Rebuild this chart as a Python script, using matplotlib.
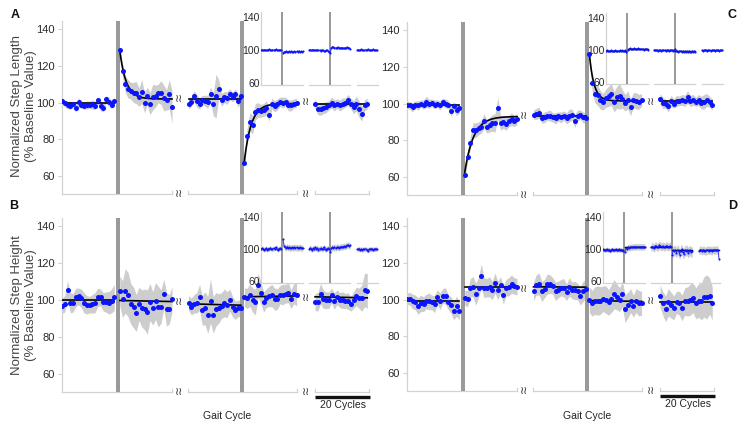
import numpy as np
import matplotlib
matplotlib.use("Agg")
import matplotlib.pyplot as plt
from matplotlib.transforms import blended_transform_factory as btf

plt.rcParams['font.family'] = ['Liberation Sans', 'DejaVu Sans']

# ---------------- data ----------------
Y_TICKS = [60, 80, 100, 120, 140]
INSET_TICKS = [60, 100, 140]

# Panel A: Step Length (condition 1)
A_P1 = [101, 99.6, 98.7, 98.4, 99, 97.3, 100.2, 98.7, 98.4, 98.7, 98.7, 99, 98.4, 101.2, 98.4, 97.3, 101.8, 100.5, 98.7, 100.9]
A_P2 = [128.5, 117.5, 110, 107.5, 106.5, 105.5, 105.5, 103, 106, 100, 103.5, 99.5, 103, 103.5, 105, 105.5, 102.5, 101.5, 104.5, 97.5]
A_P3 = [99.5, 100.5, 103.5, 101, 99.5, 101.5, 101, 100.5, 104.5, 99, 103.5, 107.5, 101.5, 103, 102.5, 104.5, 103, 104.5, 101, 103.5]
A_P4 = [67, 82, 89.5, 88, 95, 96, 95.5, 96, 97, 93.5, 99.5, 98, 99, 100.5, 100, 100.5, 98.5, 98.5, 99.5, 100]
A_P5 = [99.5, 96.5, 96.5, 97, 97.5, 98.5, 100, 98.5, 99.5, 98.5, 99.5, 100, 101.5, 99.5, 97.5, 99.5, 96.5, 94, 98.5, 99.5]
A_SD1 = [2.0, 1.8, 2.2, 2.0, 1.8, 2.2, 2.5, 2.0, 1.8, 2.2, 2.0, 2.5, 2.2, 2.0, 2.8, 2.2, 2.0, 2.5, 2.2, 2.0]
A_SD2 = [2.0, 3.5, 4.5, 5.0, 4.5, 5.5, 6.0, 5.0, 6.5, 5.5, 5.0, 6.0, 7.0, 6.0, 5.0, 6.5, 7.0, 5.5, 8.0, 9.0]
A_SD3 = [3.0, 2.5, 3.0, 3.5, 3.0, 2.5, 3.0, 3.5, 4.0, 6.0, 12.0, 5.0, 3.5, 3.0, 3.5, 3.0, 2.5, 3.0, 3.5, 3.0]
A_SD4 = [2.5, 4.0, 5.0, 5.0, 4.5, 4.0, 3.5, 3.5, 4.0, 3.5, 3.0, 3.0, 3.0, 2.5, 3.0, 2.5, 3.0, 3.0, 2.5, 2.5]
A_SD5 = [2.5, 3.0, 3.5, 3.0, 3.0, 2.5, 3.0, 3.0, 2.5, 3.0, 3.0, 2.5, 3.0, 3.0, 3.5, 4.0, 4.5, 4.0, 3.0, 3.0]
# fit per phase: (plateau, amplitude, tau, slope)
A_FIT = [(100, 0, 1, 0), (102, 26.5, 2.3, 0), (102, 0, 1, 0), (99.5, -31.5, 2.5, 0), (99.5, 0, 1, 0)]
A_BREAK_Y = [102, 100.5]

# Panel B: Step Height (condition 1)
B_P1 = [97, 98, 105.5, 98.5, 98.5, 101.5, 102, 101, 98.5, 97.5, 97.5, 98, 98.5, 101.5, 101.5, 99, 99, 98.5, 99.5, 101.5]
B_P2 = [105, 100.5, 105, 103, 98, 96, 93, 98, 95.5, 95, 93.5, 99, 95.5, 99.5, 96.5, 96.5, 103.5, 95, 95, 100.5]
B_P3 = [98.5, 96.5, 98, 98.5, 101.5, 94.5, 95.5, 92, 99.5, 92, 95, 95.5, 97, 98.5, 97.5, 100, 96.5, 94.5, 95.5, 95.5]
B_P4 = [101.5, 101, 102.5, 100, 99, 108, 104, 99, 101, 102, 102.5, 100.5, 100.5, 103, 103, 103.5, 104, 100.5, 103.5, 103]
B_P5 = [99, 99, 103.5, 100.5, 100, 100, 102.5, 99.5, 101.5, 100, 100, 99.5, 99.5, 98, 100, 102, 101, 101, 105.5, 105]
B_SD1 = [4.0, 4.5, 5.0, 5.5, 5.0, 5.0, 4.5, 5.0, 5.5, 5.0, 4.5, 5.0, 5.5, 5.0, 4.5, 5.0, 5.5, 6.0, 6.5, 7.0]
B_SD2 = [8.0, 10.0, 12.0, 12.0, 11.0, 11.0, 10.0, 9.0, 10.0, 11.0, 12.0, 10.0, 9.0, 10.0, 11.0, 9.0, 8.0, 9.0, 8.0, 7.0]
B_SD3 = [4.0, 4.5, 5.0, 5.5, 7.0, 8.0, 9.0, 10.0, 12.0, 10.0, 9.0, 8.0, 7.0, 7.5, 7.0, 6.0, 5.5, 5.0, 4.5, 4.5]
B_SD4 = [5.0, 5.5, 6.0, 6.5, 7.0, 6.5, 6.0, 5.5, 5.0, 5.5, 6.0, 6.0, 5.5, 5.0, 5.5, 5.0, 5.5, 5.0, 5.5, 6.0]
B_SD5 = [4.5, 5.0, 5.5, 5.0, 4.5, 4.5, 4.0, 4.5, 4.0, 4.0, 4.5, 4.0, 4.5, 4.0, 4.5, 5.0, 5.5, 7.0, 9.0, 9.5]
B_FIT = [(100, 0, 1, 0), (99.8, 0, 1, -0.03), (98, 0, 1, -0.04), (101.8, 0, 1, 0.025), (101.8, 0, 1, -0.03)]
B_BREAK_Y = [99, 101]

# Panel C: Step Length (condition 2)
C_P1 = [99.5, 99, 98, 99.5, 99, 100, 99.5, 101, 100, 100.5, 99.5, 100, 99, 101, 100, 99.5, 96, 98.5, 96.5, 97.5]
C_P2 = [61, 71, 78.5, 85.5, 85.5, 86.5, 87.5, 90.5, 87.5, 88.5, 89.5, 89.5, 97.5, 89.5, 90, 89, 90.5, 91.5, 90.5, 91.5]
C_P3 = [94, 94.5, 95, 92, 92.5, 93.5, 93.5, 92.5, 92, 93, 92.5, 93.5, 92, 93.5, 94, 90.5, 93.5, 94, 92.5, 92]
C_P4 = [127, 111, 105.5, 104.5, 102, 101, 103, 104, 105, 101, 103.5, 104, 102.5, 100.5, 102, 98, 102, 101.5, 101, 102]
C_P5 = [102.5, 100.5, 100, 98.5, 101.5, 100, 101.5, 101.5, 102, 101.5, 103.5, 101.5, 102, 101, 102, 100.5, 101, 102, 101, 99.5]
C_SD1 = [2.0, 2.0, 2.5, 2.0, 2.5, 2.0, 2.5, 3.0, 2.5, 2.0, 2.5, 2.0, 2.5, 2.0, 2.5, 2.0, 3.0, 2.5, 3.0, 2.5]
C_SD2 = [2.0, 3.0, 3.5, 4.0, 4.0, 3.5, 3.5, 4.0, 3.5, 4.0, 4.5, 5.0, 6.0, 4.0, 3.5, 3.5, 3.0, 3.5, 3.0, 3.0]
C_SD3 = [2.5, 3.0, 3.0, 2.5, 3.0, 2.5, 3.0, 2.5, 3.0, 2.5, 3.0, 2.5, 3.0, 3.5, 3.0, 3.5, 3.0, 2.5, 3.0, 2.5]
C_SD4 = [3.0, 4.0, 5.0, 5.5, 5.0, 4.5, 5.0, 5.5, 6.0, 5.5, 6.0, 7.0, 5.0, 4.5, 5.0, 4.5, 4.0, 4.5, 4.0, 3.5]
C_SD5 = [3.0, 3.0, 2.5, 3.0, 3.0, 2.5, 3.0, 2.5, 3.0, 3.0, 3.5, 3.0, 3.0, 2.5, 3.0, 3.5, 4.0, 3.5, 3.0, 3.0]
C_FIT = [(99.5, 0, 1, 0), (93, -30.5, 3.2, 0), (93, 0, 1, 0), (101.5, 25.5, 1.7, 0), (101.5, 0, 1, 0)]
C_BREAK_Y = [93, 101]

# Panel D: Step Height (condition 2)
D_P1 = [100.5, 100.5, 99, 98.5, 96.5, 98, 97.5, 99, 99, 98.5, 97.5, 101.5, 99, 102, 102, 98.5, 97, 94, 96.5, 94]
D_P2 = [101, 100.5, 106.5, 107, 103, 106.5, 113, 106.5, 106.5, 107, 105, 109, 105, 108, 102.5, 106.5, 107, 108.5, 107.5, 107]
D_P3 = [104.5, 108, 108.5, 104.5, 106, 108.5, 108.5, 107.5, 104.5, 105.5, 106.5, 106.5, 104, 107, 105, 105, 104.5, 102, 104.5, 106]
D_P4 = [100, 98, 99.5, 99.5, 99.5, 100.5, 100, 98.5, 100.5, 103, 101.5, 100, 103, 95, 97, 99.5, 96.5, 99.5, 98, 98]
D_P5 = [102, 98, 95, 98.5, 97, 95.5, 98.5, 98, 95.5, 99, 99, 100, 101, 98, 99.5, 99, 101.5, 101.5, 102, 98]
D_SD1 = [3.0, 3.5, 4.0, 4.0, 4.5, 4.5, 4.0, 4.0, 4.5, 4.0, 4.5, 4.0, 4.5, 4.0, 4.5, 4.0, 4.5, 5.0, 5.5, 5.0]
D_SD2 = [4.0, 4.5, 5.0, 5.5, 6.0, 5.5, 6.5, 5.5, 5.0, 5.5, 5.0, 5.5, 5.0, 4.5, 5.0, 4.5, 5.0, 5.0, 4.5, 4.5]
D_SD3 = [5.0, 5.5, 6.0, 5.5, 5.0, 5.5, 5.0, 4.5, 5.0, 4.5, 4.5, 5.0, 4.5, 5.0, 4.5, 5.0, 4.5, 5.0, 5.5, 5.0]
D_SD4 = [7.0, 7.0, 7.5, 8.0, 7.5, 7.0, 7.5, 7.0, 7.5, 8.0, 7.0, 6.5, 7.0, 7.5, 7.0, 6.5, 6.0, 6.5, 7.0, 6.5]
D_SD5 = [6.0, 6.5, 7.0, 7.5, 7.0, 6.5, 6.0, 6.5, 7.0, 7.5, 8.0, 8.5, 8.0, 8.5, 9.0, 10.0, 11.0, 12.0, 10.0, 9.0]
D_FIT = [(99.5, 0, 1, 0), (107, 0, 1, 0), (107, 0, 1, -0.01), (99.5, 0, 1, -0.025), (98.5, 0, 1, 0)]
D_BREAK_Y = [106, 99.5]

# Insets (long-term retention)
IA_P = [
    [100, 100.5, 99.5, 100, 100.5, 99.5, 100, 100.5, 101, 100, 99.5, 100.5, 100, 100, 101, 100.5, 99.5, 100, 100.5, 100],
    [97, 98, 97.5, 98.5, 98, 97.5, 98.5, 98, 98.5, 98, 97.5, 98.5, 98, 98.5, 98, 99, 98, 98.5, 98, 98.5],
    [100, 100.5, 99.5, 100, 100.5, 100, 99.5, 100, 100.5, 99.5, 100, 99, 100.5, 99.5, 99, 98.5, 99.5, 100, 99, 97.5],
    [96, 103, 104, 103.5, 103, 102.5, 103, 103.5, 102.5, 102, 102.5, 103, 102.5, 102, 102.5, 103, 103.5, 103, 102.5, 101.5],
    [100, 100.5, 99.5, 100, 101, 100.5, 100, 99.5, 100.5, 100, 101, 100.5, 99.5, 100, 100.5, 101, 100, 99.5, 100.5, 99.5]]
IB_P = [
    [100, 101, 100.5, 99, 100, 101, 99, 100.5, 100, 101.5, 99.5, 100, 101, 100, 102, 100.5, 99, 100.5, 101, 100],
    [112, 104, 102, 101.5, 103, 101.5, 102, 101, 101.5, 102, 101, 102.5, 101.5, 102, 101, 101.5, 102, 101.5, 101, 101.5],
    [100, 101.5, 100, 99, 101, 100.5, 102, 100, 101, 99, 100.5, 101, 100.5, 99.5, 102, 100.5, 99, 100.5, 101, 100],
    [96, 101, 102, 101.5, 102.5, 101, 102, 102.5, 101.5, 102, 103, 102.5, 103, 103.5, 103, 104, 104.5, 105, 104, 104.5],
    [100, 99.5, 100.5, 99, 100, 98.5, 100, 99.5, 100.5, 99, 98, 99.5, 100, 99.5, 100.5, 99, 100, 99.5, 100.5, 99.5]]
IC_P = [
    [99, 99.5, 99, 98.5, 99, 99.5, 99, 98.5, 99, 99.5, 99, 98.5, 99, 99.5, 99, 99.5, 99, 98.5, 99.5, 97.5],
    [100.5, 101.5, 102, 101.5, 101, 101.5, 102, 101.5, 101, 101.5, 102, 101.5, 101, 101.5, 101, 100.5, 101, 101.5, 101, 100.5],
    [100, 99.5, 100, 99.5, 99, 99.5, 100, 99, 99.5, 100, 99.5, 99, 100, 99.5, 99, 99.5, 100, 99.5, 99, 100],
    [101, 98.5, 99, 98, 98.5, 99, 98, 98.5, 98, 98.5, 97.5, 98.5, 98, 98.5, 98, 97.5, 98.5, 98, 98.5, 98],
    [99.5, 99, 99.5, 100, 99.5, 99, 100, 99.5, 99, 99.5, 100, 99.5, 99, 99.5, 100, 99.5, 99, 99.5, 100, 99.5]]
ID_P = [
    [99.5, 99, 98.5, 99, 99.5, 98.5, 99, 98, 99, 99.5, 98.5, 99, 99.5, 98.5, 99, 99.5, 98.5, 99, 99, 97],
    [96, 101, 100.5, 102, 101.5, 102, 102.5, 102, 103, 102.5, 103, 102.5, 103, 102.5, 103, 102.5, 103, 102.5, 103, 102.5],
    [102, 103, 102.5, 101, 104, 103.5, 102, 103, 105, 103.5, 102.5, 104, 103, 102.5, 103.5, 104, 102.5, 103, 104, 103],
    [92, 99, 97, 98.5, 95, 99, 97.5, 93, 98, 99.5, 96, 94, 98.5, 97, 99, 95.5, 97, 98.5, 96, 97],
    [98, 99, 98.5, 97.5, 99, 98, 97, 98.5, 99, 98, 99, 98.5, 97.5, 99, 98.5, 99, 98.5, 99, 98.5, 88]]
IA_SD = [1.2, 1.2, 1.2, 1.5, 1.2]
IB_SD = [3.0, 4.0, 3.5, 4.0, 3.0]
IC_SD = [1.2, 1.2, 1.5, 1.5, 1.2]
ID_SD = [3.0, 4.0, 5.0, 6.5, 5.0]
IC_FIT = [99, 101.5, 99.5, 98.5, 99.5]
ID_FIT = [99, 102.5, 103, 98.5, 98.5]

# ---------------- layout (cycles on x) ----------------
PHASE_START = [0, 21, 46, 66.3, 92]
N_CYC = 20
BAR_X = [20.5, 65.6]
SEG = [(0, 40), (45.8, 85.3), (92, 111.5)]
BREAK_X = [42.6, 88.7]
XLIM = (0, 112.5)
YLIM = (50.2, 144.5)
IYLIM = (57.8, 146)

BLUE = '#0a14ff'
BAND = '#cdcdcd'
BAR = '#9a9a9a'
AXC = '#d2d2d2'

W, H = 750, 424
fig = plt.figure(figsize=(7.5, 4.24), dpi=100)


def rect(l, t, r, b):
    return [l / W, 1 - b / H, (r - l) / W, (b - t) / H]


def phase_x(k):
    return PHASE_START[k] + np.arange(N_CYC)


def setup_axes(ax, ylim, ticks, tick_len, fs):
    ax.set_xlim(*XLIM)
    ax.set_ylim(*ylim)
    ax.set_facecolor('none')
    for s in ['top', 'right', 'bottom']:
        ax.spines[s].set_visible(False)
    ax.spines['left'].set_color(AXC)
    ax.spines['left'].set_linewidth(0.9)
    ax.set_xticks([])
    ax.set_yticks(ticks)
    ax.set_yticklabels([str(t) for t in ticks])
    ax.tick_params(axis='y', length=tick_len, width=0.8, color=AXC,
                   labelsize=fs, labelcolor='#2a2a2a', pad=2)
    tr = btf(ax.transData, ax.transAxes)
    for (s, e) in SEG:
        ax.plot([s, e], [0, 0], color=AXC, lw=0.9, transform=tr, clip_on=False, zorder=1)
    return tr


def draw_main(ax, phases, sds, fits, break_y):
    tr = setup_axes(ax, YLIM, Y_TICKS, 3, 8)
    for (s, e) in SEG:
        for xe in (s, e):
            if xe > 0:
                ax.plot([xe, xe], [0, 0.02], color=AXC, lw=0.9, transform=tr, clip_on=False)
    for k in range(5):
        x = phase_x(k)
        y = np.array(phases[k], float)
        sd = np.array(sds[k], float)
        ax.fill_between(x, y - sd, y + sd, color=BAND, lw=0, zorder=1)
    for bx in BAR_X:
        ax.axvspan(bx - 0.75, bx + 0.75, color=BAR, lw=0, zorder=2)
    for k in range(5):
        a, b, tau, slope = fits[k]
        t = np.linspace(0, N_CYC - 1, 120)
        ax.plot(PHASE_START[k] + t, a + b * np.exp(-t / tau) + slope * t,
                color='black', lw=1.2, zorder=3)
        ax.plot(phase_x(k), phases[k], 'o', color=BLUE, ms=3.6, mew=0, zorder=4)
    for bx, by in zip(BREAK_X, break_y):
        ax.text(bx, by, '≀≀', ha='center', va='center', fontsize=8, color='#333333')
        ax.text(bx, 0, '≀≀', ha='center', va='center', fontsize=8, color='#333333',
                transform=tr)


def draw_inset(ax, phases, sd, fit=None):
    setup_axes(ax, IYLIM, INSET_TICKS, 0, 7.5)
    ax.tick_params(axis='y', pad=1)
    for k in range(5):
        x = phase_x(k)
        y = np.array(phases[k], float)
        ax.fill_between(x, y - sd[k], y + sd[k], color=BAND, lw=0, zorder=1)
    for bx in BAR_X:
        ax.axvspan(bx - 1.0, bx + 1.0, color=BAR, lw=0, zorder=2)
    for k in range(5):
        if fit is not None:
            ax.plot([PHASE_START[k], PHASE_START[k] + N_CYC - 1], [fit[k], fit[k]],
                    color='black', lw=1.0, zorder=3)
        ax.plot(phase_x(k), phases[k], '-o', color=BLUE, ms=1.5, lw=0.5, mew=0, zorder=4)


axA = fig.add_axes(rect(62, 21, 62 + 309.4, 194))
axB = fig.add_axes(rect(62, 218, 62 + 309.4, 392))
axC = fig.add_axes(rect(407, 22, 407 + 309.4, 195))
axD = fig.add_axes(rect(407, 218, 407 + 309.4, 391))

draw_main(axA, [A_P1, A_P2, A_P3, A_P4, A_P5], [A_SD1, A_SD2, A_SD3, A_SD4, A_SD5], A_FIT, A_BREAK_Y)
draw_main(axB, [B_P1, B_P2, B_P3, B_P4, B_P5], [B_SD1, B_SD2, B_SD3, B_SD4, B_SD5], B_FIT, B_BREAK_Y)
draw_main(axC, [C_P1, C_P2, C_P3, C_P4, C_P5], [C_SD1, C_SD2, C_SD3, C_SD4, C_SD5], C_FIT, C_BREAK_Y)
draw_main(axD, [D_P1, D_P2, D_P3, D_P4, D_P5], [D_SD1, D_SD2, D_SD3, D_SD4, D_SD5], D_FIT, D_BREAK_Y)

IW = 309.4 * 0.38
iA = fig.add_axes(rect(261, 12, 261 + IW, 85))
iB = fig.add_axes(rect(261, 212, 261 + IW, 283))
iC = fig.add_axes(rect(606, 13, 606 + IW, 84))
iD = fig.add_axes(rect(603, 212, 603 + IW, 283))
draw_inset(iA, IA_P, IA_SD)
draw_inset(iB, IB_P, IB_SD)
draw_inset(iC, IC_P, IC_SD, IC_FIT)
draw_inset(iD, ID_P, ID_SD, ID_FIT)

# scale bars "20 Cycles"
for ax in (axB, axD):
    tr = btf(ax.transData, ax.transAxes)
    ax.plot([SEG[2][0], SEG[2][0] + 20], [-0.03, -0.03], color='#111111', lw=2.4,
            transform=tr, clip_on=False, solid_capstyle='butt')
    ax.text(SEG[2][0] + 10, -0.075, '20 Cycles', transform=tr, ha='center', va='center',
            fontsize=7.5, color='#222222')

# axis titles
fig.text(24 / W, 1 - 106 / H, 'Normalized Step Length\n(% Baseline Value)', rotation=90,
         ha='center', va='center', fontsize=9.5, color='#454545', linespacing=1.18)
fig.text(24 / W, 1 - 305 / H, 'Normalized Step Height\n(% Baseline Value)', rotation=90,
         ha='center', va='center', fontsize=9.5, color='#454545', linespacing=1.18)
fig.text(227 / W, 1 - 416 / H, 'Gait Cycle', ha='center', va='center', fontsize=7.5, color='#222222')
fig.text(587 / W, 1 - 416 / H, 'Gait Cycle', ha='center', va='center', fontsize=7.5, color='#222222')

for lab, (px, py) in zip('ABCD', [(15, 15), (14, 206), (732, 15), (733, 206)]):
    fig.text(px / W, 1 - py / H, lab, ha='center', va='center', fontsize=9,
             fontweight='bold', color='#111111')

fig.savefig('out.png', dpi=100)
